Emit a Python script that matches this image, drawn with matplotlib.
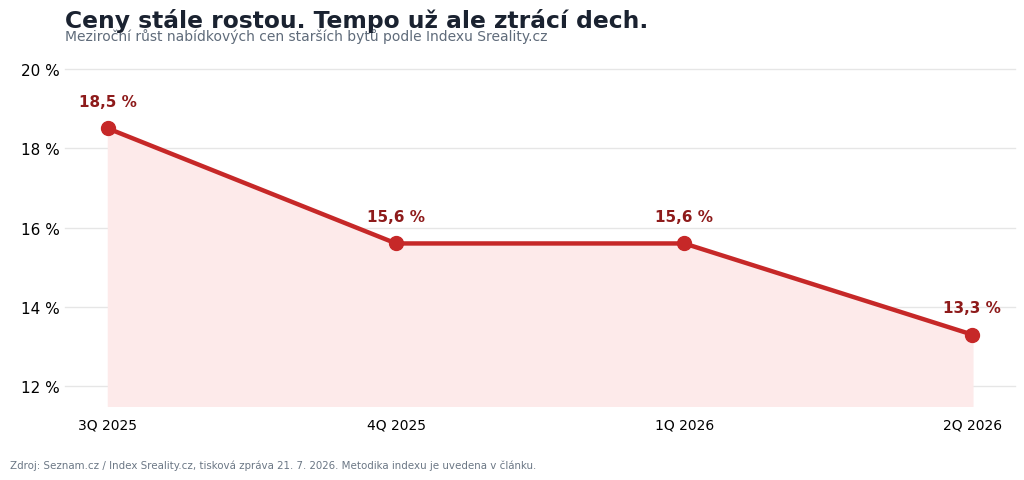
import matplotlib
matplotlib.use("Agg")
import matplotlib.pyplot as plt

quarters = ["3Q 2025", "4Q 2025", "1Q 2026", "2Q 2026"]
growth = [18.5, 15.6, 15.6, 13.3]
yticks = [12, 14, 16, 18, 20]

line_color = "#c62828"
label_color = "#8e1b1b"

fig = plt.figure(figsize=(10.24, 4.81), dpi=100)
ax = fig.add_axes([0.0635, 0.1538, 0.928, 0.7007])

x = list(range(len(quarters)))
ax.fill_between(x, growth, 11.5, color="#fdeaea", zorder=1)
ax.plot(x, growth, color=line_color, lw=3.2, marker="o", ms=10, zorder=3)
for xi, v in zip(x, growth):
    ax.annotate(f"{v:.1f} %".replace(".", ","), (xi, v), xytext=(0, 14),
                textcoords="offset points", ha="center", va="bottom",
                fontsize=11, fontweight="bold", color=label_color)

ax.set_xlim(-0.149, 3.149)
ax.set_ylim(11.5, 20)
ax.set_xticks(x)
ax.set_xticklabels(quarters, fontsize=10)
ax.set_yticks(yticks)
ax.set_yticklabels([f"{t} %" for t in yticks], fontsize=11)
for s in ax.spines.values():
    s.set_visible(False)
ax.tick_params(length=0)
ax.tick_params(axis="y", pad=4)
ax.tick_params(axis="x", pad=8)
ax.grid(axis="y", color="#e6e6e6", lw=1, clip_on=False)
ax.set_axisbelow(True)

fig.text(0.0635, 0.957, "Ceny stále rostou. Tempo už ale ztrácí dech.",
         fontsize=16.8, fontweight="bold", color="#1a2230", va="center")
fig.text(0.0635, 0.925, "Meziroční růst nabídkových cen starších bytů podle Indexu Sreality.cz",
         fontsize=10, color="#5f6b7a", va="center")
fig.text(0.01, 0.031, "Zdroj: Seznam.cz / Index Sreality.cz, tisková zpráva 21. 7. 2026. Metodika indexu je uvedena v článku.",
         fontsize=7.4, color="#6b7785", va="center")

fig.savefig("out.png", dpi=100)
